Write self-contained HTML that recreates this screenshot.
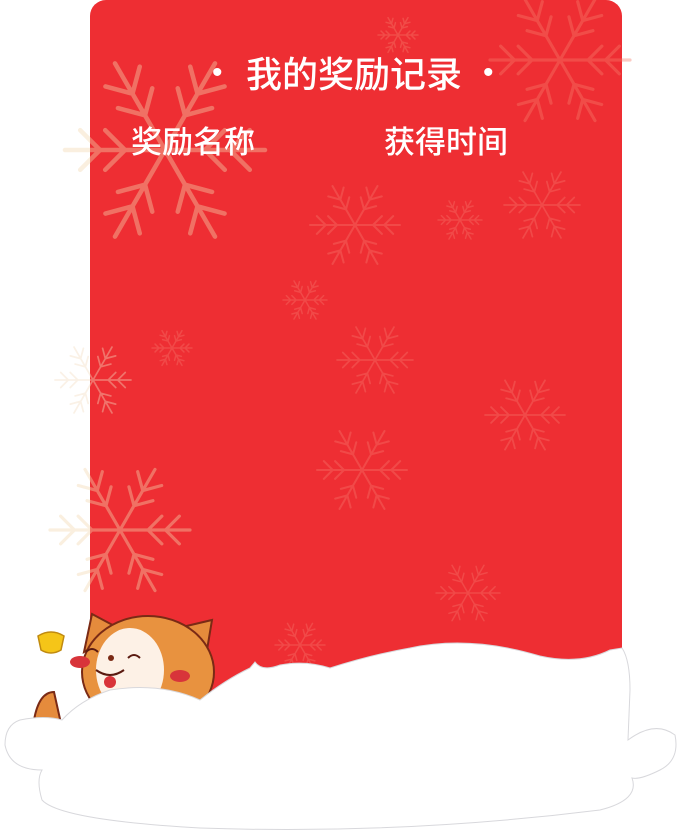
<!DOCTYPE html>
<html><head><meta charset="utf-8"><style>
html,body{margin:0;padding:0;background:#fff;}
body{width:681px;height:837px;position:relative;overflow:hidden;font-family:"Liberation Sans","Noto Sans CJK SC",sans-serif;}
#card{position:absolute;left:90px;top:0;width:532px;height:700px;background:#ee2e33;border-radius:16px 16px 0 0;}
svg{position:absolute;left:0;top:0;}
.t{position:absolute;color:#fff;white-space:nowrap;font-weight:500;}
</style></head><body>
<div id="card"></div>
<svg id="flakes" width="681" height="837"></svg>
<div class="t" style="left:212px;top:56px;font-size:30px;">•</div>
<div class="t" style="left:246px;top:53px;font-size:36px;line-height:44px;">我的奖励记录</div>
<div class="t" style="left:483px;top:56px;font-size:30px;">•</div>
<div class="t" style="left:131px;top:124px;font-size:31px;line-height:38px;">奖励名称</div>
<div class="t" style="left:384px;top:124px;font-size:31px;line-height:38px;">获得时间</div>
<svg width="681" height="837">
<g>
<path d="M84 652 L92 614 L122 630 Z" fill="#e58b3c" stroke="#7a2a15" stroke-width="2"/>
<path d="M178 628 L212 620 L205 662 Z" fill="#e58b3c" stroke="#7a2a15" stroke-width="2"/>
<ellipse cx="148" cy="672" rx="66" ry="56" fill="#e8923f" stroke="#7a2a15" stroke-width="2"/>
<ellipse cx="130" cy="670" rx="34" ry="42" fill="#fdf1e6"/>
<ellipse cx="80" cy="662" rx="10" ry="6" fill="#d8343a"/>
<ellipse cx="180" cy="676" rx="10" ry="6" fill="#d8343a"/>
<path d="M86 652 q6 -6 12 0 M128 658 q6 -6 12 0" stroke="#5a1a10" stroke-width="2" fill="none"/>
<circle cx="111" cy="658" r="3" fill="#7a2a15"/>
<path d="M96 670 q14 10 28 0" stroke="#5a1a10" stroke-width="2" fill="none"/>
<ellipse cx="110" cy="682" rx="6" ry="6" fill="#d8343a"/>
<path d="M38 636 q13 -8 26 0 l-3 14 q-10 6 -20 0 z" fill="#f5c518" stroke="#c08a10" stroke-width="1.5"/>
<path d="M34 720 q5 -28 20 -28 l8 36 z" fill="#e58b3c" stroke="#7a2a15" stroke-width="2"/>
</g>
<path d="M62 720 Q80 700 110 690 Q160 682 200 700 Q225 680 250 668 L255 662 Q262 672 280 665 Q305 660 330 668 Q370 655 410 648 Q470 635 540 656 Q580 665 610 650 L622 648 Q630 660 630 690 L628 740 Q655 720 675 735 Q680 760 660 770 Q640 780 632 778 Q640 800 600 810 Q400 835 200 828 Q60 820 42 800 Q36 780 42 770 Q10 770 5 745 Q5 725 20 720 Q45 715 62 720 Z" fill="#fff" stroke="#d8d8dc" stroke-width="1"/>
</svg>
<script>
var flakeX=[165,560,398,355,460,542,305,172,375,93,525,362,120,468,300];
var flakeY=[150,60,35,225,220,205,300,348,360,380,415,470,530,593,645];
var flakeR=[100,70,20,45,22,38,22,20,38,38,40,45,70,32,25];
var flakeC=["#f2d7b0","#f47a6a","#f47a6a","#f4726a","#f4726a","#f4726a","#f4726a","#f4726a","#f4726a","#f3dcc0","#f4726a","#f4726a","#f2d7b0","#f4726a","#f4726a"];
var s=document.getElementById('flakes');var ns='http://www.w3.org/2000/svg';
for(var i=0;i<flakeX.length;i++){
 var g=document.createElementNS(ns,'g');
 
 
 g.setAttribute('stroke',flakeC[i]);g.setAttribute('stroke-width',Math.max(1.5,flakeR[i]/22));g.setAttribute('opacity','0.4');g.setAttribute('fill','none');g.setAttribute('stroke-linecap','round');
 var r=flakeR[i],d='';
 for(var k=0;k<6;k++){var a=k*Math.PI/3;var ca=Math.cos(a),sa=Math.sin(a);
  d+='M'+(flakeX[i])+' '+(flakeY[i])+'L'+(flakeX[i]+ca*r)+' '+(flakeY[i]+sa*r);
  [0.4,0.65].forEach(function(f){var px=flakeX[i]+ca*r*f,py=flakeY[i]+sa*r*f;var l=r*0.28;
   [-1,1].forEach(function(sg){var b=a+sg*Math.PI/4;d+='M'+px+' '+py+'L'+(px+Math.cos(b)*l)+' '+(py+Math.sin(b)*l);});});}
 var p=document.createElementNS(ns,'path');p.setAttribute('d',d);g.appendChild(p);s.appendChild(g);}
</script>
</body></html>
